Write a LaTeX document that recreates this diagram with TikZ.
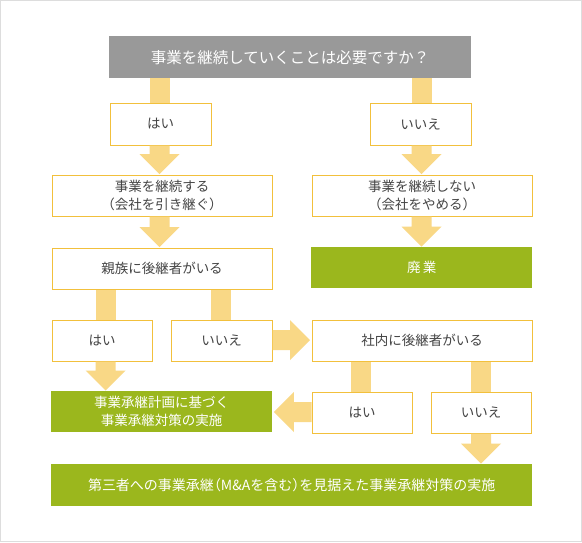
\documentclass[tikz,border=0pt]{standalone}
\usepackage{fontspec}
\newfontfamily\jp{Noto Sans CJK JP}
\newfontfamily\jph[RawFeature=+halt]{Noto Sans CJK JP}
\newcommand{\lpar}{{\jph （}}
\newcommand{\rpar}{{\jph ）}}
\usetikzlibrary{calc}
\definecolor{qgray}{HTML}{999999}
\definecolor{boxline}{HTML}{F2C03C}
\definecolor{arrowc}{HTML}{F9D886}
\definecolor{leaf}{HTML}{9BB71D}
\definecolor{txt}{HTML}{444444}
\definecolor{framec}{HTML}{DDDDDD}
% vertical bar: x, upper node, lower node
\newcommand{\vbar}[3]{%
  \path (#1,0) coordinate (bx);
  \fill[arrowc] ($(bx |- #2.south)+(-10,0)$) rectangle ($(bx |- #3.north)+(10,0)$);}
% vertical block arrow down: x, upper node, lower node
\newcommand{\varr}[3]{%
  \path (#1,0) coordinate (bx);
  \path (bx |- #2.south) coordinate (as);
  \path ($(bx |- #3.north)+(0,-0.5)$) coordinate (ae);
  \fill[arrowc] ($(as)+(-10,0)$) -- ($(ae)+(-10,-20)$) -- ($(ae)+(-20,-20)$) -- (ae)
    -- ($(ae)+(20,-20)$) -- ($(ae)+(10,-20)$) -- ($(as)+(10,0)$) -- cycle;}
% rightward block arrow: y, left node, right node
\newcommand{\rarr}[3]{%
  \path (0,#1) coordinate (by);
  \path (#2.east |- by) coordinate (as);
  \path ($(#3.west |- by)+(-1.5,0)$) coordinate (ae);
  \fill[arrowc] ($(as)+(0,-10)$) -- ($(ae)+(-20,-10)$) -- ($(ae)+(-20,-20)$) -- (ae)
    -- ($(ae)+(-20,20)$) -- ($(ae)+(-20,10)$) -- ($(as)+(0,10)$) -- cycle;}
% leftward block arrow: y, right node, left node
\newcommand{\larr}[3]{%
  \path (0,#1) coordinate (by);
  \path (#2.west |- by) coordinate (as);
  \path ($(#3.east |- by)+(1.5,0)$) coordinate (ae);
  \fill[arrowc] ($(as)+(0,-10)$) -- ($(ae)+(20,-10)$) -- ($(ae)+(20,-20)$) -- (ae)
    -- ($(ae)+(20,20)$) -- ($(ae)+(20,10)$) -- ($(as)+(0,10)$) -- cycle;}
\tikzset{
  base/.style={anchor=north west, inner sep=0pt, align=center,
    font=\jp\fontsize{13.5}{18}\selectfont},
  wbox/.style={base, draw=boxline, line width=1pt, fill=white, text=txt},
  gbox/.style={base, fill=leaf, text=white},
  qbox/.style={base, fill=qgray, text=white, font=\jp\fontsize{15.5}{18}\selectfont},
}
\begin{document}
\begin{tikzpicture}[x=1pt,y=-1pt]
\useasboundingbox (0,0) rectangle (582,542);
\fill[white] (0,0) rectangle (582,542);
\draw[framec, line width=1pt] (0.5,0.5) rectangle (581.5,541.5);

\node[qbox, minimum width=362pt, minimum height=42pt] (q) at (109,36) {事業を継続していくことは必要ですか？};
\node[wbox, minimum width=101pt, minimum height=42pt] (y1) at (109.5,102.5) {はい};
\node[wbox, minimum width=101pt, minimum height=42pt] (n1) at (369.5,102.5) {いいえ};
\node[wbox, minimum width=220pt, minimum height=41pt] (cont) at (51.5,174.5) {事業を継続する\\\lpar 会社を引き継ぐ\rpar};
\node[wbox, minimum width=220pt, minimum height=41pt] (stop) at (311.5,174.5) {事業を継続しない\\\lpar 会社をやめる\rpar};
\node[wbox, minimum width=220pt, minimum height=41pt] (fam) at (51.5,247.5) {親族に後継者がいる};
\node[gbox, minimum width=221pt, minimum height=41pt] (haigyo) at (311,247) {廃\,業};
\node[wbox, minimum width=100pt, minimum height=41pt] (y2) at (51.5,319.5) {はい};
\node[wbox, minimum width=101pt, minimum height=41pt] (n2) at (170.5,319.5) {いいえ};
\node[wbox, minimum width=220pt, minimum height=41pt] (inhouse) at (311.5,319.5) {社内に後継者がいる};
\node[gbox, minimum width=221pt, minimum height=41pt] (plan) at (51,391) {事業承継計画に基づく\\事業承継対策の実施};
\node[wbox, minimum width=100pt, minimum height=41pt] (y3) at (311.5,391.5) {はい};
\node[wbox, minimum width=100pt, minimum height=41pt] (n3) at (430.5,391.5) {いいえ};
\node[gbox, minimum width=481pt, minimum height=42pt, font=\jp\fontsize{14}{18}\selectfont] (third) at (51,464) {第三者への事業承継\lpar M\&Aを含む\rpar を見据えた事業承継対策の実施};

\vbar{159.5}{q}{y1}
\vbar{422}{q}{n1}
\varr{159.5}{y1}{cont}
\varr{421.5}{n1}{stop}
\varr{159.5}{cont}{fam}
\varr{421.5}{stop}{haigyo}
\vbar{105.7}{fam}{y2}
\vbar{220.5}{fam}{n2}
\varr{105.7}{y2}{plan}
\rarr{340}{n2}{inhouse}
\vbar{361}{inhouse}{y3}
\vbar{481}{inhouse}{n3}
\larr{412}{y3}{plan}
\varr{481}{n3}{third}
\end{tikzpicture}
\end{document}
